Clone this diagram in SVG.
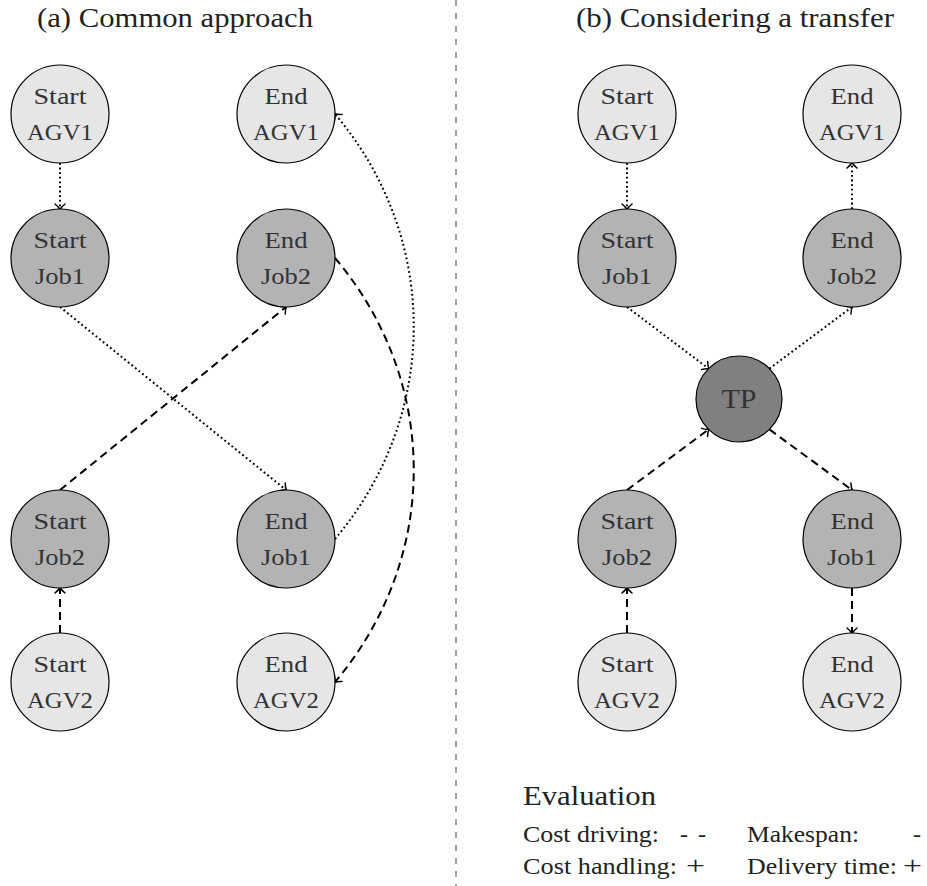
<svg xmlns="http://www.w3.org/2000/svg" width="927" height="886" viewBox="0 0 927 886">
<style>
  .t { font-family: "Liberation Serif", "DejaVu Serif", serif; fill: #333; }
  .nt { font-size: 24px; text-anchor: middle; }
  .title { font-size: 28px; fill: #222; }
  .ev { font-size: 24px; fill: #222; }
  .light { fill: #e6e6e6; stroke: #000; stroke-width: 1.2; }
  .mid { fill: #b3b3b3; stroke: #000; stroke-width: 1.2; }
  .dark { fill: #808080; stroke: #000; stroke-width: 1.2; }
  .dot { fill: none; stroke: #000; stroke-width: 2; stroke-dasharray: 1.8 2.8; }
  .dash { fill: none; stroke: #000; stroke-width: 2; stroke-dasharray: 8 5; }
</style>
<defs>
  <marker id="arr" markerUnits="userSpaceOnUse" markerWidth="14" markerHeight="14" refX="0" refY="0" viewBox="-7 -7 14 14" orient="auto" overflow="visible">
    <path d="M -5,-5 Q -1.8,-1 0.6,0 Q -1.8,1 -5,5" fill="none" stroke="#000" stroke-width="1.5" stroke-dasharray="none" stroke-linecap="round"/>
  </marker>
</defs>
<rect width="927" height="886" fill="#fff"/>

<line x1="456" y1="0" x2="456" y2="886" stroke="#444" stroke-width="1" stroke-dasharray="6 7"/>

<text class="t title" x="37" y="27" textLength="276" lengthAdjust="spacingAndGlyphs">(a) Common approach</text>
<text class="t title" x="576" y="27" textLength="318" lengthAdjust="spacingAndGlyphs">(b) Considering a transfer</text>

<g id="connectors">
  <!-- (a) -->
  <path class="dot" d="M60,163 L60,209" marker-end="url(#arr)"/>
  <path class="dot" d="M60,307 L286,490" marker-end="url(#arr)"/>
  <path class="dot" d="M335,539 C440,415 440,238 335,114" marker-end="url(#arr)"/>
  <path class="dash" d="M60,633 L60,588" marker-end="url(#arr)"/>
  <path class="dash" d="M60,490 L286,307" marker-end="url(#arr)"/>
  <path class="dash" d="M335,258 C440,382 440,558 335,682" marker-end="url(#arr)"/>
  <!-- (b) -->
  <path class="dot" d="M627,163 L627,209" marker-end="url(#arr)"/>
  <path class="dot" d="M627,307 L708.6,368.6" marker-end="url(#arr)"/>
  <path class="dot" d="M769.4,368.6 L852,307" marker-end="url(#arr)"/>
  <path class="dot" d="M852,209 L852,163" marker-end="url(#arr)"/>
  <path class="dash" d="M627,633 L627,588" marker-end="url(#arr)"/>
  <path class="dash" d="M627,490 L708.6,429.4" marker-end="url(#arr)"/>
  <path class="dash" d="M769.4,429.4 L852,490" marker-end="url(#arr)"/>
  <path class="dash" d="M852,588 L852,633" marker-end="url(#arr)"/>
</g>

<!-- (a) nodes -->
<g id="a-startAGV1"><circle class="light" cx="60" cy="114" r="49"/><text class="t nt" x="60" y="104" textLength="53" lengthAdjust="spacingAndGlyphs">Start</text><text class="t nt" x="60" y="140" textLength="66" lengthAdjust="spacingAndGlyphs">AGV1</text></g>
<g id="a-endAGV1"><circle class="light" cx="286" cy="114" r="49"/><text class="t nt" x="286" y="104" textLength="43" lengthAdjust="spacingAndGlyphs">End</text><text class="t nt" x="286" y="140" textLength="66" lengthAdjust="spacingAndGlyphs">AGV1</text></g>
<g id="a-startJob1"><circle class="mid" cx="60" cy="258" r="49"/><text class="t nt" x="60" y="248" textLength="53" lengthAdjust="spacingAndGlyphs">Start</text><text class="t nt" x="60" y="284" textLength="50" lengthAdjust="spacingAndGlyphs">Job1</text></g>
<g id="a-endJob2"><circle class="mid" cx="286" cy="258" r="49"/><text class="t nt" x="286" y="248" textLength="43" lengthAdjust="spacingAndGlyphs">End</text><text class="t nt" x="286" y="284" textLength="50" lengthAdjust="spacingAndGlyphs">Job2</text></g>
<g id="a-startJob2"><circle class="mid" cx="60" cy="539" r="49"/><text class="t nt" x="60" y="529" textLength="53" lengthAdjust="spacingAndGlyphs">Start</text><text class="t nt" x="60" y="565" textLength="50" lengthAdjust="spacingAndGlyphs">Job2</text></g>
<g id="a-endJob1"><circle class="mid" cx="286" cy="539" r="49"/><text class="t nt" x="286" y="529" textLength="43" lengthAdjust="spacingAndGlyphs">End</text><text class="t nt" x="286" y="565" textLength="50" lengthAdjust="spacingAndGlyphs">Job1</text></g>
<g id="a-startAGV2"><circle class="light" cx="60" cy="682" r="49"/><text class="t nt" x="60" y="672" textLength="53" lengthAdjust="spacingAndGlyphs">Start</text><text class="t nt" x="60" y="708" textLength="66" lengthAdjust="spacingAndGlyphs">AGV2</text></g>
<g id="a-endAGV2"><circle class="light" cx="286" cy="682" r="49"/><text class="t nt" x="286" y="672" textLength="43" lengthAdjust="spacingAndGlyphs">End</text><text class="t nt" x="286" y="708" textLength="66" lengthAdjust="spacingAndGlyphs">AGV2</text></g>

<!-- (b) nodes -->
<g id="b-startAGV1"><circle class="light" cx="627" cy="114" r="49"/><text class="t nt" x="627" y="104" textLength="53" lengthAdjust="spacingAndGlyphs">Start</text><text class="t nt" x="627" y="140" textLength="66" lengthAdjust="spacingAndGlyphs">AGV1</text></g>
<g id="b-endAGV1"><circle class="light" cx="852" cy="114" r="49"/><text class="t nt" x="852" y="104" textLength="43" lengthAdjust="spacingAndGlyphs">End</text><text class="t nt" x="852" y="140" textLength="66" lengthAdjust="spacingAndGlyphs">AGV1</text></g>
<g id="b-startJob1"><circle class="mid" cx="627" cy="258" r="49"/><text class="t nt" x="627" y="248" textLength="53" lengthAdjust="spacingAndGlyphs">Start</text><text class="t nt" x="627" y="284" textLength="50" lengthAdjust="spacingAndGlyphs">Job1</text></g>
<g id="b-endJob2"><circle class="mid" cx="852" cy="258" r="49"/><text class="t nt" x="852" y="248" textLength="43" lengthAdjust="spacingAndGlyphs">End</text><text class="t nt" x="852" y="284" textLength="50" lengthAdjust="spacingAndGlyphs">Job2</text></g>
<g id="b-TP"><circle class="dark" cx="739" cy="399" r="43"/><text class="t nt" x="739" y="408" style="font-size:27px" textLength="35" lengthAdjust="spacingAndGlyphs">TP</text></g>
<g id="b-startJob2"><circle class="mid" cx="627" cy="539" r="49"/><text class="t nt" x="627" y="529" textLength="53" lengthAdjust="spacingAndGlyphs">Start</text><text class="t nt" x="627" y="565" textLength="50" lengthAdjust="spacingAndGlyphs">Job2</text></g>
<g id="b-endJob1"><circle class="mid" cx="852" cy="539" r="49"/><text class="t nt" x="852" y="529" textLength="43" lengthAdjust="spacingAndGlyphs">End</text><text class="t nt" x="852" y="565" textLength="50" lengthAdjust="spacingAndGlyphs">Job1</text></g>
<g id="b-startAGV2"><circle class="light" cx="627" cy="682" r="49"/><text class="t nt" x="627" y="672" textLength="53" lengthAdjust="spacingAndGlyphs">Start</text><text class="t nt" x="627" y="708" textLength="66" lengthAdjust="spacingAndGlyphs">AGV2</text></g>
<g id="b-endAGV2"><circle class="light" cx="852" cy="682" r="49"/><text class="t nt" x="852" y="672" textLength="43" lengthAdjust="spacingAndGlyphs">End</text><text class="t nt" x="852" y="708" textLength="66" lengthAdjust="spacingAndGlyphs">AGV2</text></g>

<g id="evaluation">
  <text class="t ev" x="523" y="805" style="font-size:28px" textLength="133" lengthAdjust="spacingAndGlyphs">Evaluation</text>
  <text class="t ev" x="523" y="842" textLength="136" lengthAdjust="spacingAndGlyphs">Cost driving:</text>
  <text class="t ev" x="680" y="842" textLength="26" lengthAdjust="spacing">- -</text>
  <text class="t ev" x="747" y="842" textLength="112" lengthAdjust="spacingAndGlyphs">Makespan:</text>
  <text class="t ev" x="913" y="842">-</text>
  <text class="t ev" x="523" y="874" textLength="154" lengthAdjust="spacingAndGlyphs">Cost handling:</text>
  <text class="t ev" x="686" y="874" style="font-size:26px" textLength="19" lengthAdjust="spacingAndGlyphs">+</text>
  <text class="t ev" x="747" y="874" textLength="150" lengthAdjust="spacingAndGlyphs">Delivery time:</text>
  <text class="t ev" x="903" y="874" style="font-size:26px" textLength="19" lengthAdjust="spacingAndGlyphs">+</text>
</g>
</svg>
